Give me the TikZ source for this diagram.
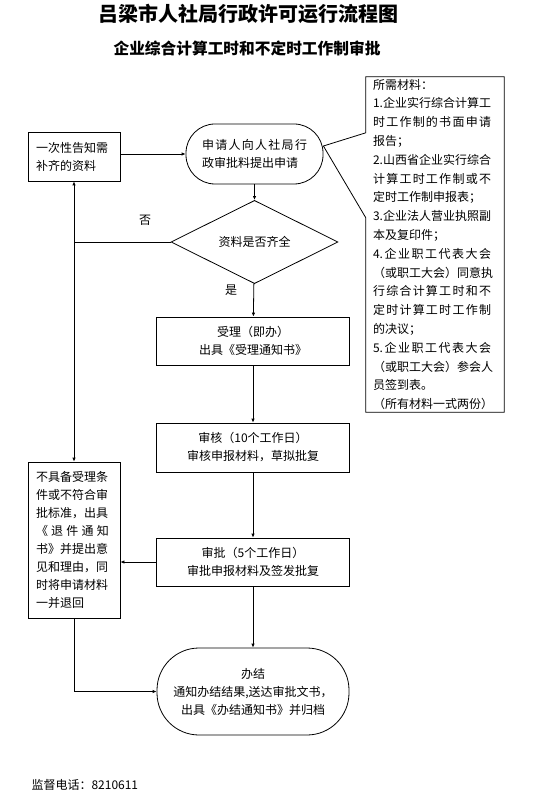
\documentclass[tikz,border=0pt]{standalone}
\usepackage{fontspec}
\setmainfont{Noto Sans CJK SC}
\usepackage{tikz}
\usetikzlibrary{arrows.meta, shapes.geometric, calc, positioning}

\newcommand{\spread}[2]{\makebox[#1][s]{\spaceskip=0pt plus 1fil\xspaceskip=0pt plus 1fil\relax #2}}

\begin{document}
\begin{tikzpicture}[x=1pt, y=-1pt,
    box/.style={draw, line width=0.8pt, inner sep=0pt, align=center, font=\fontsize{12}{18}\selectfont},
    leftbox/.style={box, align=left, text width=76pt, minimum width=92pt},
    arr/.style={-{Latex[length=4pt, width=3.5pt]}, line width=0.8pt},
    lbl/.style={font=\fontsize{12}{14}\selectfont}]
  \useasboundingbox (0,0) rectangle (536,794);

  \node[font=\fontsize{20}{24}\selectfont\bfseries] (title) at (248,14) {吕梁市人社局行政许可运行流程图};
  \node[font=\fontsize{15.7}{19}\selectfont\bfseries] (subtitle) at (247,48) {企业综合计算工时和不定时工作制审批};

  \node[leftbox, minimum height=49pt] (notice) at (74,156.5) {一次性告知需\\补齐的资料};
  \node[box, align=left, text width=105pt, minimum width=137pt, minimum height=60pt, rounded corners=29pt] (apply) at (254.5,154) {\spread{105pt}{申 请 人 向 人 社 局 行}\\政审批料提出申请};
  \node[box, diamond, minimum width=167pt, minimum height=45pt] (check) at (254.5,242) {资料是否齐全};
  \node[box, minimum width=193pt, minimum height=48pt] (accept) at (253,341) {受理（即办）\\出具《受理通知书》};
  \node[box, minimum width=193pt, minimum height=49pt] (review) at (253,447.5) {审核（10个工作日）\\审核申报材料，草拟批复};
  \node[box, minimum width=193pt, minimum height=48pt] (approve) at (253,562) {审批（5个工作日）\\审批申报材料及签发批复};
  \node[leftbox, minimum height=156pt] (refuse) at (74,540) {不具备受理条\\件或不符合审\\批标准，出具\\\spread{73pt}{《 退 件 通 知}\\书》并提出意\\见和理由，同\\时将申请材料\\一并退回};
  \node[box, minimum width=192pt, minimum height=87pt, rounded corners=42pt] (done) at (253,691.5) {办结\\通知办结结果,送达审批文书，\\出具《办结通知书》并归档};

  \node[inner sep=0pt, align=left, text width=124pt, minimum width=138pt, minimum height=335pt, font=\fontsize{12}{18.8}\selectfont] (mat) at (435,244.5) {所需材料：\\1.企业实行综合计算工\\\spread{118pt}{时 工 作 制 的 书 面 申 请}\\报告；\\2.山西省企业实行综合\\\spread{118pt}{计 算 工 时 工 作 制 或 不}\\定时工作制申报表；\\3.企业法人营业执照副\\本及复印件；\\\spread{118pt}{4. 企 业 职 工 代 表 大 会}\\（或职工大会）同意执\\\spread{118pt}{行 综 合 计 算 工 时 和 不}\\\spread{118pt}{定 时 计 算 工 时 工 作 制}\\的决议；\\\spread{118pt}{5. 企 业 职 工 代 表 大 会}\\（或职工大会）参会人\\员签到表。\\（所有材料一式两份）};

  \node[lbl] (no) at (145,220) {否};
  \node[lbl] (yes) at (231,290) {是};
  \node[lbl, anchor=west] (phone) at (28,785) {监督电话：8210611};

  \draw[line width=0.8pt] ($(apply.east)+(0,-8)$) -- ($(mat.north west)+(0,56)$) -- (mat.north west) -- (mat.north east) -- (mat.south east) -- (mat.south west) -- ($(mat.north west)+(0,141)$) -- cycle;

  \draw[arr] (apply.west -| notice.east) -- (apply.west);
  \draw[arr] (apply) -- (check);
  \draw[arr] (check.west) -| (notice.south);
  \draw[arr] (check.west -| refuse.north) -- (refuse.north);
  \draw[arr] (check) -- (accept);
  \draw[arr] (accept) -- (review);
  \draw[arr] (review) -- (approve);
  \draw[arr] (approve.west) -- (approve.west -| refuse.east);
  \draw[arr] (approve) -- (done);
  \draw[arr] (refuse.south) |- (done.west);
\end{tikzpicture}
\end{document}
